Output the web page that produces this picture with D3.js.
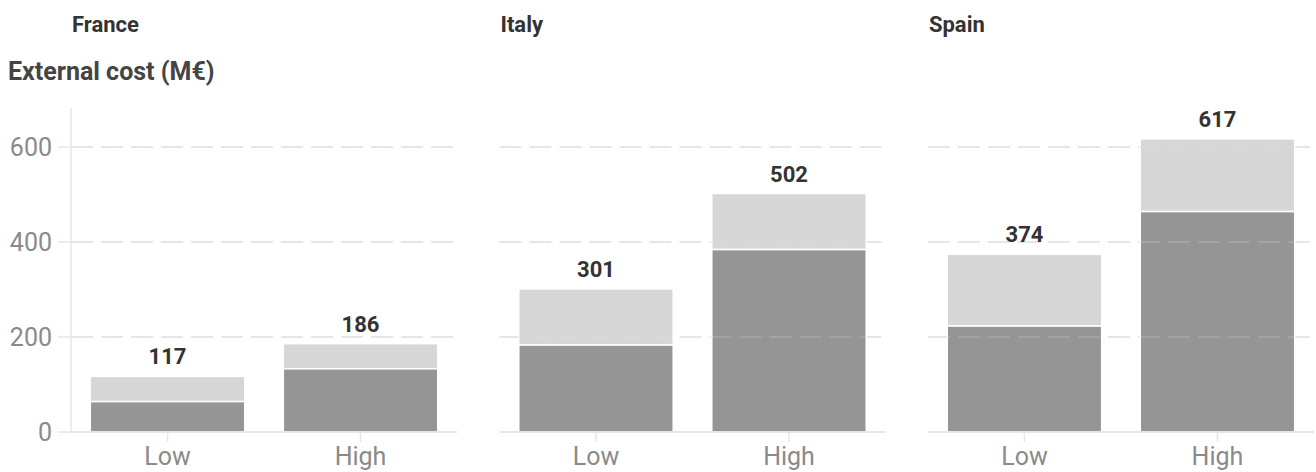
<!DOCTYPE html>
<html>
<head>
<meta charset="utf-8">
<script src="https://cdn.jsdelivr.net/npm/d3@7"></script>
<style>
  body { margin: 0; background: #fff; font-family: Roboto, "Noto Sans", sans-serif; }
</style>
</head>
<body>
<div id="chart"></div>
<script>
// data
const countries = ["France", "Italy", "Spain"];
const scenarios = ["Low", "High"];
const baseCost = [[64, 133], [183, 384], [223, 464]];
const totalCost = [[117, 186], [301, 502], [374, 617]];
const yTicks = [0, 200, 400, 600];
const yTitle = "External cost (M€)";

const width = 1316, height = 472;

const svg = d3.select("#chart").append("svg")
    .attr("width", width)
    .attr("height", height);

// scales
const panel = d3.scaleBand()
    .domain(countries)
    .range([71, 1314])
    .paddingInner(0.099);

const y = d3.scaleLinear()
    .domain([0, 682])
    .range([432, 108]);

const gridColor = "#e9e5e7";

// y title
svg.append("text")
    .attr("x", 8)
    .attr("y", 80)
    .attr("font-size", 25)
    .attr("font-weight", "bold")
    .attr("fill", "#444")
    .text(yTitle);

countries.forEach((country, ci) => {
    const px = panel(country);
    const pw = panel.bandwidth();
    const g = svg.append("g").attr("transform", "translate(" + px + ",0)");

    const x = d3.scaleBand()
        .domain(scenarios)
        .range([0, pw])
        .paddingInner(0.2)
        .paddingOuter(0.1);

    // panel title
    g.append("text")
        .attr("x", 1)
        .attr("y", 32)
        .attr("font-size", 22)
        .attr("font-weight", "bold")
        .attr("fill", "#333")
        .text(country);

    // gridlines
    const drawGrid = (sel, op) => {
        sel.selectAll(null)
            .data(yTicks.filter(d => d > 0))
            .enter().append("line")
            .attr("x1", 0)
            .attr("x2", pw)
            .attr("y1", d => y(d))
            .attr("y2", d => y(d))
            .attr("stroke", gridColor)
            .attr("stroke-width", 2)
            .attr("stroke-dasharray", "22,8")
            .attr("opacity", op);
    };
    drawGrid(g.append("g"), 1);

    // stacked bars
    const rows = scenarios.map((s, i) => ({
        scenario: s,
        base: baseCost[ci][i],
        total: totalCost[ci][i]
    }));

    g.selectAll(".bar-top")
        .data(rows)
        .enter().append("rect")
        .attr("class", "bar-top")
        .attr("x", d => x(d.scenario))
        .attr("width", x.bandwidth())
        .attr("y", d => y(d.total))
        .attr("height", d => y(d.base) - y(d.total))
        .attr("fill", "#d6d6d6")
        .attr("stroke", "#fff")
        .attr("stroke-width", 1.5);

    g.selectAll(".bar-base")
        .data(rows)
        .enter().append("rect")
        .attr("class", "bar-base")
        .attr("x", d => x(d.scenario))
        .attr("width", x.bandwidth())
        .attr("y", d => y(d.base))
        .attr("height", d => y(0) - y(d.base))
        .attr("fill", "#959595")
        .attr("stroke", "#fff")
        .attr("stroke-width", 1.5);

    // faint gridlines over bars
    drawGrid(g.append("g"), 0.18);

    // value labels
    g.selectAll(".val")
        .data(rows)
        .enter().append("text")
        .attr("class", "val")
        .attr("x", d => x(d.scenario) + x.bandwidth() / 2)
        .attr("y", d => y(d.total) - 12)
        .attr("text-anchor", "middle")
        .attr("font-size", 22)
        .attr("font-weight", "bold")
        .attr("fill", "#333")
        .text(d => d.total);

    // x axis baseline
    g.append("line")
        .attr("x1", 0)
        .attr("x2", pw)
        .attr("y1", y(0))
        .attr("y2", y(0))
        .attr("stroke", "#e6e6e6")
        .attr("stroke-width", 2);

    // x ticks and labels
    g.selectAll(".xtick")
        .data(scenarios)
        .enter().append("line")
        .attr("class", "xtick")
        .attr("x1", d => x(d) + x.bandwidth() / 2)
        .attr("x2", d => x(d) + x.bandwidth() / 2)
        .attr("y1", y(0))
        .attr("y2", y(0) + 10)
        .attr("stroke", "#e6e6e6")
        .attr("stroke-width", 1.5);

    g.selectAll(".xlab")
        .data(scenarios)
        .enter().append("text")
        .attr("class", "xlab")
        .attr("x", d => x(d) + x.bandwidth() / 2)
        .attr("y", 465)
        .attr("text-anchor", "middle")
        .attr("font-size", 25)
        .attr("fill", "#8a8a8a")
        .text(d => d);

    // y axis only on first panel
    if (ci === 0) {
        g.append("line")
            .attr("x1", 0)
            .attr("x2", 0)
            .attr("y1", y.range()[1])
            .attr("y2", y(0))
            .attr("stroke", "#e6e6e6")
            .attr("stroke-width", 1.5);

        g.selectAll(".ytick")
            .data(yTicks)
            .enter().append("line")
            .attr("x1", -13)
            .attr("x2", 0)
            .attr("y1", d => y(d))
            .attr("y2", d => y(d))
            .attr("stroke", "#e6e6e6")
            .attr("stroke-width", 1.5);

        g.selectAll(".ylab")
            .data(yTicks)
            .enter().append("text")
            .attr("x", -19)
            .attr("y", d => y(d))
            .attr("dy", "0.36em")
            .attr("text-anchor", "end")
            .attr("font-size", 25)
            .attr("fill", "#8a8a8a")
            .text(d => d);
    }
});
</script>
</body>
</html>
